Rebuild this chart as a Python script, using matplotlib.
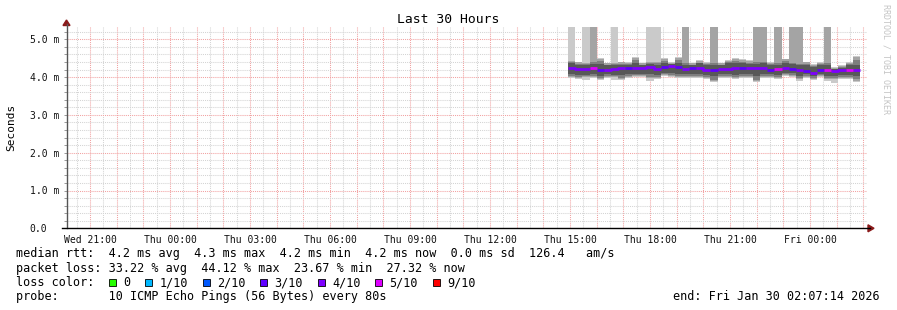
import numpy as np
import matplotlib.pyplot as plt
import matplotlib.dates as mdates
from matplotlib.patches import Polygon, Rectangle
from matplotlib.lines import Line2D
from matplotlib.ticker import MultipleLocator, FuncFormatter

W, H = 897, 310
MONO = 'DejaVu Sans Mono'

# time window and consolidated steps (16 min each)
t_begin = np.datetime64('2026-01-28T20:07:14')
t_end = np.datetime64('2026-01-30T02:07:14')
first_step = np.datetime64('2026-01-29T14:56:00')

# median rtt per step (ms)
median = [4.24, 4.21, 4.21, 4.23, 4.19, 4.19, 4.21, 4.23, 4.23, 4.23, 4.23,
          4.27, 4.22, 4.26, 4.29, 4.27, 4.21, 4.23, 4.25, 4.20, 4.19, 4.22,
          4.22, 4.24, 4.25, 4.25, 4.25, 4.25, 4.19, 4.22, 4.24, 4.22, 4.19,
          4.17, 4.12, 4.20, 4.19, 4.17, 4.19, 4.20, 4.19]
# lost pings out of 10 per step
loss = [4, 4, 4, 5, 3, 4, 4, 4, 3, 4, 4, 4, 4, 3, 4, 3, 4, 3, 4, 4, 3, 4,
        4, 4, 3, 4, 4, 4, 3, 5, 4, 3, 4, 3, 4, 3, 5, 4, 4, 5, 4]

# smoke layers (outer -> inner), ms
l1_top = [12, 4.41, 12, 12, 4.50, 4.38, 12, 4.41, 4.40, 4.52, 4.38, 12, 12,
          4.50, 4.40, 4.52, 12, 4.38, 4.44, 4.40, 12, 4.38, 4.45, 4.50, 4.47,
          4.44, 12, 12, 4.40, 12, 4.49, 12, 12, 4.41, 4.35, 4.40, 12, 4.26,
          4.31, 4.40, 4.55]
l1_bot = [3.98, 3.95, 3.92, 3.97, 3.92, 3.98, 3.92, 3.93, 3.98, 4.00, 4.00,
          3.89, 3.95, 4.02, 4.00, 3.98, 3.98, 3.98, 3.97, 3.94, 3.87, 3.97,
          3.98, 3.94, 3.97, 3.97, 3.87, 3.97, 3.97, 3.94, 4.02, 4.00, 3.91,
          3.98, 3.92, 4.00, 3.91, 3.84, 3.94, 3.94, 3.88]
l2_top = [4.43, 4.39, 4.38, 12, 4.48, 4.36, 4.37, 4.39, 4.38, 4.50, 4.36,
          4.40, 4.40, 4.48, 4.38, 4.50, 12, 4.36, 4.42, 4.38, 12, 4.36, 4.43,
          4.48, 4.45, 4.42, 12, 12, 4.38, 12, 4.47, 12, 12, 4.39, 4.33, 4.38,
          12, 4.24, 4.29, 4.38, 4.53]
l2_bot = [4.01, 3.97, 3.99, 3.99, 3.95, 4.01, 3.99, 3.95, 4.01, 4.03, 4.03,
          3.98, 3.97, 4.05, 4.03, 4.01, 4.01, 4.01, 4.00, 3.97, 3.89, 4.00,
          4.01, 3.97, 4.00, 4.00, 3.89, 4.00, 4.00, 3.97, 4.05, 4.03, 3.94,
          4.01, 3.95, 4.03, 3.94, 3.95, 3.97, 3.97, 3.90]
l3_top = [4.39, 4.35, 4.34, 4.40, 4.42, 4.33, 4.34, 4.35, 4.35, 4.44, 4.33,
          4.37, 4.36, 4.43, 4.35, 4.44, 4.38, 4.33, 4.38, 4.34, 4.37, 4.33,
          4.39, 4.42, 4.40, 4.38, 4.40, 4.39, 4.34, 4.38, 4.42, 4.38, 4.35,
          4.35, 4.30, 4.34, 4.36, 4.22, 4.26, 4.34, 4.45]
l3_bot = [4.04, 4.00, 4.02, 4.02, 3.98, 4.04, 4.02, 3.98, 4.04, 4.06, 4.06,
          4.01, 4.00, 4.08, 4.06, 4.04, 4.04, 4.04, 4.03, 4.00, 3.93, 4.03,
          4.04, 4.00, 4.03, 4.03, 3.93, 4.03, 4.03, 4.00, 4.08, 4.06, 3.97,
          4.04, 3.98, 4.06, 3.97, 3.98, 4.00, 4.00, 3.94]
l4_top = [4.36, 4.33, 4.32, 4.35, 4.35, 4.31, 4.32, 4.33, 4.33, 4.36, 4.32,
          4.35, 4.33, 4.38, 4.35, 4.38, 4.33, 4.32, 4.36, 4.32, 4.31, 4.32,
          4.36, 4.37, 4.37, 4.35, 4.34, 4.36, 4.32, 4.33, 4.37, 4.34, 4.31,
          4.32, 4.27, 4.32, 4.31, 4.21, 4.25, 4.31, 4.33]
l4_bot = [4.07, 4.05, 4.06, 4.07, 4.04, 4.08, 4.06, 4.05, 4.08, 4.09, 4.09,
          4.07, 4.05, 4.11, 4.10, 4.08, 4.08, 4.08, 4.07, 4.05, 4.03, 4.08,
          4.08, 4.06, 4.08, 4.08, 4.04, 4.08, 4.07, 4.06, 4.11, 4.10, 4.03,
          4.07, 4.02, 4.09, 4.04, 4.04, 4.05, 4.06, 4.02]

loss_labels = ['0', '1/10', '2/10', '3/10', '4/10', '5/10', '9/10']
loss_levels = [0, 1, 2, 3, 4, 5, 9]
loss_colors = ['#26ff00', '#00b8ff', '#0059ff', '#5e00ff', '#7e00ff', '#dd00ff', '#ff0000']

y_ticks = [0, 1, 2, 3, 4, 5]
y_labels = ['0.0', '1.0 m', '2.0 m', '3.0 m', '4.0 m', '5.0 m']

row1 = 'median rtt:  4.2 ms avg  4.3 ms max  4.2 ms min  4.2 ms now  0.0 ms sd  126.4   am/s'
row2 = 'packet loss: 33.22 % avg  44.12 % max  23.67 % min  27.32 % now'
row4 = 'probe:       10 ICMP Echo Pings (56 Bytes) every 80s'
end_txt = 'end: Fri Jan 30 02:07:14 2026'


def fx(px):
    return px / W


def fy(py):
    return 1 - py / H


fig = plt.figure(figsize=(W / 100, H / 100), dpi=100)
left, right, bottom, top = 66.5, 866.5, 228.3, 27
ax = fig.add_axes([fx(left), fy(bottom), (right - left) / W, (bottom - top) / H])
ymax = (bottom - top) / 37.8

n = len(median)
edges = mdates.date2num(first_step + np.arange(n + 1) * np.timedelta64(16, 'm'))


def ext(a):
    a = np.asarray(a, dtype=float)
    return np.append(a, a[-1])


layers = [(l1_bot, l1_top, '#cacaca'), (l2_bot, l2_top, '#a4a4a4'),
          (l3_bot, l3_top, '#7e7e7e'), (l4_bot, l4_top, '#585858')]
for lo, hi, c in layers:
    ax.fill_between(edges, ext(lo), ext(hi), step='post', color=c, lw=0, zorder=2)

# median line coloured by loss
xs = np.repeat(edges, 2)[1:-1]
med = np.asarray(median, dtype=float)
ls = np.asarray(loss)
for i, lvl in enumerate(loss_levels):
    nxt = loss_levels[i + 1] if i + 1 < len(loss_levels) else 11
    vals = np.where((ls >= lvl) & (ls < nxt), med, np.nan)
    if np.all(np.isnan(vals)):
        continue
    ax.plot(xs, np.repeat(vals, 2), color=loss_colors[i], lw=2.0,
            solid_capstyle='butt', zorder=3)

ax.set_xlim(mdates.date2num(t_begin), mdates.date2num(t_end))
ax.set_ylim(0, ymax)

ax.xaxis.set_major_locator(mdates.HourLocator(interval=1))
ax.xaxis.set_minor_locator(mdates.MinuteLocator(byminute=[30]))


def xfmt(x, pos):
    d = mdates.num2date(x)
    return d.strftime('%a %H:%M') if d.hour % 3 == 0 else ''


ax.xaxis.set_major_formatter(FuncFormatter(xfmt))
ax.set_yticks(y_ticks, labels=y_labels)
ax.yaxis.set_minor_locator(MultipleLocator(0.2))

ax.set_axisbelow(True)
ax.grid(which='major', color='#f2a2a2', linestyle=(0, (1, 1)), lw=0.75)
ax.grid(which='minor', color='#d4d4d4', linestyle=(0, (1, 1)), lw=0.75)

ax.tick_params(axis='x', which='both', length=0, pad=4.5, labelsize=7,
               labelfontfamily=MONO, labelcolor='#111111')
ax.tick_params(axis='y', which='both', length=2, color='#999999', width=0.7,
               labelsize=7, labelfontfamily=MONO, labelcolor='#111111', pad=24.5)
for lab in ax.get_yticklabels():
    lab.set_horizontalalignment('left')

for s in ax.spines.values():
    s.set_visible(False)

# axes lines and arrows
fig.add_artist(Line2D([fx(left), fx(left)], [fy(bottom), fy(24)], color='#555555', lw=1.0))
fig.add_artist(Line2D([fx(62), fx(870)], [fy(bottom), fy(bottom)], color='black', lw=1.0))
fig.add_artist(Polygon([[fx(left - 3.5), fy(25.5)], [fx(left + 3.5), fy(25.5)], [fx(left), fy(20)]],
                       closed=True, color='#8b1a1a', transform=fig.transFigure))
fig.add_artist(Polygon([[fx(868), fy(bottom - 3.5)], [fx(868), fy(bottom + 3.5)], [fx(874), fy(bottom)]],
                       closed=True, color='#8b1a1a', transform=fig.transFigure))

fig.text(fx(448), fy(19.5), 'Last 30 Hours', family=MONO, fontsize=9.4,
         ha='center', va='center')
fig.text(fx(11), fy(127), 'Seconds', family=MONO, fontsize=8, rotation=90,
         ha='center', va='center')
fig.text(fx(886), fy(59), 'RRDTOOL / TOBI OETIKER', family=MONO, fontsize=6,
         rotation=270, ha='center', va='center', color='#c4c4c4')

fs = 8.5
fig.text(fx(16), fy(254), row1, family=MONO, fontsize=fs, va='center')
fig.text(fx(16), fy(268.2), row2, family=MONO, fontsize=fs, va='center')
fig.text(fx(16), fy(282.5), 'loss color:', family=MONO, fontsize=fs, va='center')
fig.text(fx(16), fy(296.7), row4, family=MONO, fontsize=fs, va='center')
fig.text(fx(880), fy(296.7), end_txt, family=MONO, fontsize=fs, va='center', ha='right')

x = 109
for lab, c in zip(loss_labels, loss_colors):
    fig.add_artist(Rectangle((fx(x), fy(286)), 7 / W, 7 / H, transform=fig.transFigure,
                             facecolor=c, edgecolor='black', lw=0.6))
    fig.text(fx(x + 14.3), fy(282.5), lab, family=MONO, fontsize=fs, va='center')
    x += 14.3 + len(lab) * 7.1 + 14.8

fig.savefig('out.png', dpi=100)
